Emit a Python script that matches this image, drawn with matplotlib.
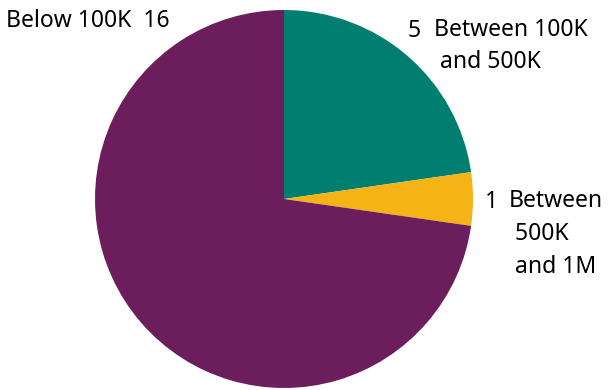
import matplotlib.pyplot as plt

# Number of items per price band
bands = ["Between 100K\n and 500K", "Between\n 500K\n and 1M", "Below 100K"]
counts = [5, 1, 16]
colors = ["#007f70", "#f5b316", "#6b1e5b"]

plt.rcParams['font.family'] = ['Noto Sans', 'DejaVu Sans']

fig = plt.figure(figsize=(6.08, 3.9), dpi=100)
ax = fig.add_axes([95 / 608, 2 / 390, 378 / 608, 378 / 390])
ax.pie(counts, colors=colors, startangle=90, counterclock=False,
       wedgeprops=dict(linewidth=0))
ax.set_xlim(-1, 1)
ax.set_ylim(-1, 1)
ax.set_aspect('equal')
ax.axis('off')

fs = 16.5


def px(x, y):
    return x / 608, 1 - y / 390


# labels: count next to band name; multi-line names sit on their last baseline
fig.text(*px(408, 37), str(counts[0]), fontsize=fs, va='baseline')
fig.text(*px(434, 68), bands[0], fontsize=fs, va='baseline', linespacing=1.42)
fig.text(*px(485, 208), str(counts[1]), fontsize=fs, va='baseline')
fig.text(*px(509, 273), bands[1], fontsize=fs, va='baseline', linespacing=1.5)
fig.text(*px(6, 27), bands[2] + "  " + str(counts[2]),
         fontsize=fs, va='baseline')

fig.savefig("out.png", dpi=100)
